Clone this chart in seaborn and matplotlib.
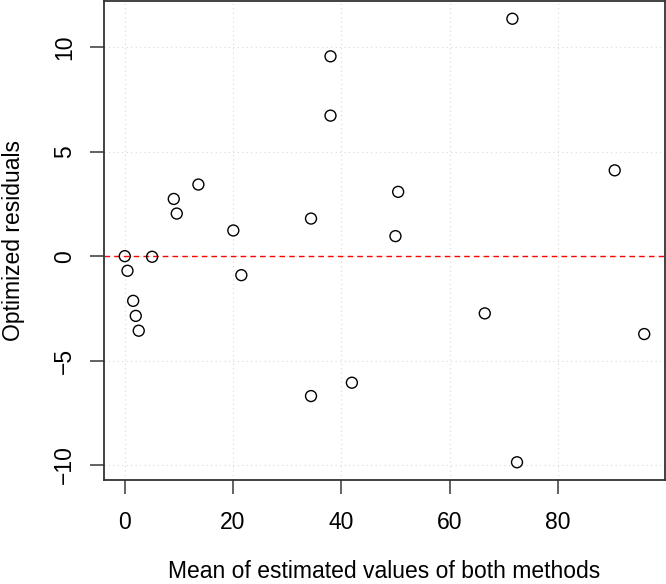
import matplotlib
matplotlib.use("Agg")
import matplotlib.pyplot as plt
import seaborn as sns
import pandas as pd

mean_values = [0.0, 0.5, 1.55, 2.03, 2.58, 5.05, 9.05, 9.6, 13.6, 20.05, 21.53,
               34.4, 34.4, 38.0, 38.0, 41.95, 50.0, 50.5, 66.5, 71.6, 72.45, 90.5, 95.95]
residuals = [0.0, -0.70, -2.14, -2.86, -3.57, -0.03, 2.74, 2.04, 3.43, 1.23, -0.91,
             1.80, -6.70, 9.57, 6.73, -6.06, 0.96, 3.08, -2.74, 11.37, -9.87, 4.11, -3.73]
x_ticks = [0, 20, 40, 60, 80]
y_ticks = [-10, -5, 0, 5, 10]

df = pd.DataFrame({"mean": mean_values, "resid": residuals})

sns.set_style("white")
plt.rcParams["font.family"] = ["Liberation Sans", "DejaVu Sans"]
plt.rcParams["text.color"] = "black"
plt.rcParams["axes.labelcolor"] = "black"

fig = plt.figure(figsize=(6.66, 5.84), dpi=100)
ax = fig.add_axes([104 / 666, 1 - 480 / 584, 561 / 666, 479 / 584])

sns.scatterplot(data=df, x="mean", y="resid", ax=ax, s=62, facecolor="none",
                edgecolor="black", linewidth=1.0, zorder=3)

ax.axhline(0, color="red", linestyle=(0, (4, 3)), linewidth=1.0, zorder=2)

xmin, xmax = min(mean_values), max(mean_values)
ymin, ymax = min(residuals), max(residuals)
px = (xmax - xmin) * 0.04
py = (ymax - ymin) * 0.04
ax.set_xlim(xmin - px, xmax + px)
ax.set_ylim(ymin - py, ymax + py)

ax.set_xticks(x_ticks)
ax.set_yticks(y_ticks)
ax.set_xticklabels([str(v) for v in x_ticks])
ax.set_yticklabels(["\u221210", "\u22125", "0", "5", "10"], rotation=90, va="center")

ax.grid(True, color="#d9d9d9", linestyle=(0, (1, 3)), linewidth=0.8)
ax.set_axisbelow(True)

for sp in ax.spines.values():
    sp.set_visible(True)
    sp.set_color("#333333")
    sp.set_linewidth(1.3)

ax.tick_params(axis="both", which="major", direction="out", length=10, width=1.3,
               color="#555555", labelsize=16.5, labelcolor="black",
               bottom=True, left=True, top=False, right=False)
ax.tick_params(axis="x", pad=12)
ax.tick_params(axis="y", pad=10)

ax.set_xlabel("Mean of estimated values of both methods", fontsize=16.5, labelpad=19, color="black")
ax.set_ylabel("Optimized residuals", fontsize=16.5, labelpad=20, color="black")

fig.savefig("out.png", dpi=100)
